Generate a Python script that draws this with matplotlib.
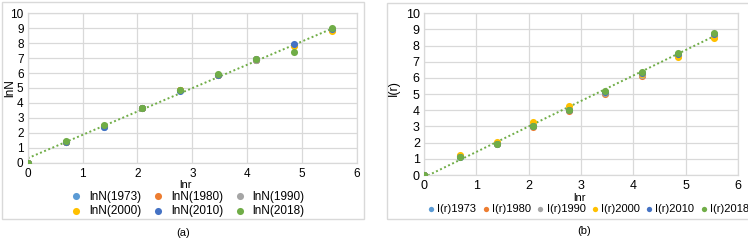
import numpy as np
import matplotlib
matplotlib.use("Agg")
import matplotlib.pyplot as plt
from matplotlib.patches import Rectangle

plt.rcParams['font.family'] = ['Liberation Sans', 'DejaVu Sans']

# ---- data ----
lnr = [0.0, 0.693, 1.386, 2.079, 2.773, 3.466, 4.159, 4.852, 5.545]

years = ["1973", "1980", "1990", "2000", "2010", "2018"]
colors = ["#5B9BD5", "#ED7D31", "#A5A5A5", "#FFC000", "#4472C4", "#70AD47"]

lnN_1973 = [0, 1.40, 2.42, 3.66, 4.84, 5.88, 6.90, 7.85, 8.88]
lnN_1980 = [0, 1.40, 2.43, 3.67, 4.84, 5.89, 6.90, 7.86, 8.86]
lnN_1990 = [0, 1.40, 2.43, 3.67, 4.84, 5.89, 6.90, 7.86, 8.87]
lnN_2000 = [0, 1.41, 2.45, 3.67, 4.84, 5.90, 6.91, 7.80, 8.82]
lnN_2010 = [0, 1.41, 2.40, 3.66, 4.83, 5.90, 6.91, 7.95, 8.95]
lnN_2018 = [0, 1.43, 2.50, 3.68, 4.85, 5.93, 6.93, 7.38, 9.03]

Ir_1973 = [0, 1.15, 1.95, 3.05, 4.00, 5.10, 6.20, 7.40, 8.60]
Ir_1980 = [0, 1.15, 1.93, 2.95, 3.93, 5.02, 6.15, 7.35, 8.55]
Ir_1990 = [0, 1.18, 1.97, 3.05, 4.05, 5.10, 6.20, 7.40, 8.60]
Ir_2000 = [0, 1.25, 2.05, 3.25, 4.25, 5.15, 6.25, 7.30, 8.45]
Ir_2010 = [0, 1.12, 1.92, 3.02, 4.02, 5.15, 6.30, 7.50, 8.70]
Ir_2018 = [0, 1.10, 1.90, 3.05, 4.05, 5.20, 6.35, 7.55, 8.78]

lnN_series = [lnN_1973, lnN_1980, lnN_1990, lnN_2000, lnN_2010, lnN_2018]
Ir_series = [Ir_1973, Ir_1980, Ir_1990, Ir_2000, Ir_2010, Ir_2018]

W, H = 748, 243
fig = plt.figure(figsize=(W / 100, H / 100), dpi=100)

def fx(px):
    return px / W

def fy(py):
    return 1 - py / H

grid_c = "#D9D9D9"

# outer chart borders
fig.patches.append(Rectangle((fx(2), fy(219)), fx(362), 217 / H, transform=fig.transFigure,
                             fill=False, edgecolor=grid_c, lw=1))
fig.patches.append(Rectangle((fx(387), fy(219)), fx(400), 216 / H, transform=fig.transFigure,
                             fill=False, edgecolor=grid_c, lw=1))

def setup(ax, fs, xpad):
    ax.set_xlim(0, 6)
    ax.set_ylim(0, 10)
    ax.set_xticks(range(0, 7))
    ax.set_yticks(range(0, 11))
    ax.grid(True, color=grid_c, lw=0.9)
    ax.set_axisbelow(True)
    for s in ax.spines.values():
        s.set_color(grid_c)
        s.set_linewidth(0.9)
    ax.tick_params(length=0, labelsize=fs, colors="#000000", pad=3)
    ax.tick_params(axis='x', pad=xpad)

# ---- panel (a) ----
axa = fig.add_axes([fx(27.7), fy(162.7), fx(329.3), 149.4 / H])
setup(axa, 8.5, 4)
for yr, c, s in zip(years, colors, lnN_series):
    axa.scatter(lnr, s, s=26, color=c, zorder=3, label="lnN(" + yr + ")", linewidths=0)
ka, ba = np.polyfit(lnr, lnN_2018, 1)
xt = np.array([lnr[0], lnr[-1]])
axa.plot(xt, ka * xt + ba, color="#70AD47", lw=1.4, ls=(0, (1, 1.3)), zorder=2)
fig.text(fx(185), fy(185), "lnr", ha="center", va="center", fontsize=8)
fig.text(fx(10), fy(88), "lnN", ha="center", va="center", rotation=90, fontsize=8.5)
h, l = axa.get_legend_handles_labels()
order = [0, 3, 1, 4, 2, 5]
axa.legend([h[i] for i in order], [l[i] for i in order],
           loc="center", bbox_to_anchor=(fx(188), fy(204)), bbox_transform=fig.transFigure,
           ncol=3, frameon=False, fontsize=8.5, handlelength=0.8, handletextpad=0.7,
           columnspacing=1.0, labelspacing=0.25, borderpad=0, markerscale=1.0)
fig.text(fx(183), fy(233), "(a)", ha="center", va="center", fontsize=8)

# ---- panel (b) ----
axb = fig.add_axes([fx(424), fy(175), fx(314), 161.7 / H])
setup(axb, 9, 3.5)
for yr, c, s in zip(years, colors, Ir_series):
    axb.scatter(lnr, s, s=26, color=c, zorder=3, label="I(r)" + yr, linewidths=0)
kb, bb = np.polyfit(lnr, Ir_2018, 1)
axb.plot(xt, kb * xt + bb, color="#70AD47", lw=1.4, ls=(0, (1, 1.3)), zorder=2)
fig.text(fx(580), fy(197.5), "lnr", ha="center", va="center", fontsize=8)
fig.text(fx(394), fy(88), "I(r)", ha="center", va="center", rotation=90, fontsize=9)
axb.legend(loc="center left", bbox_to_anchor=(fx(423), fy(209)), bbox_transform=fig.transFigure,
           ncol=6, frameon=False, fontsize=8, handlelength=0.5, handletextpad=0.3,
           columnspacing=0.6, borderpad=0, markerscale=0.75)
fig.text(fx(584), fy(231), "(b)", ha="center", va="center", fontsize=8)

fig.savefig("out.png", dpi=100)
